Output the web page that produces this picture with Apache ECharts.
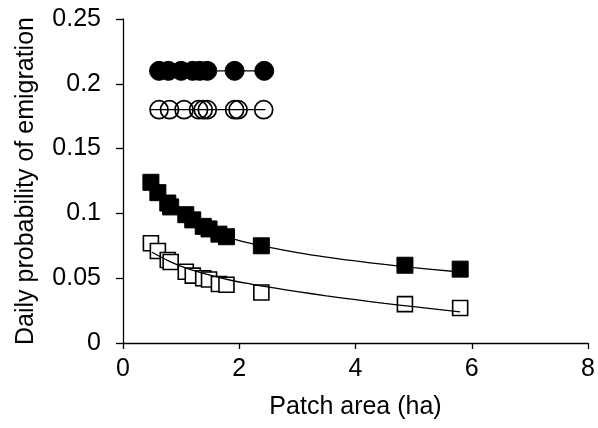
<!DOCTYPE html>
<html>
<head>
<meta charset="utf-8">
<script src="https://cdn.jsdelivr.net/npm/echarts@6/dist/echarts.min.js"></script>
<style>
  html, body { margin: 0; padding: 0; background: #fff; }
  #chart { width: 598px; height: 428px; }
</style>
</head>
<body>
<div id="chart"></div>
<script>
// Patch areas (ha) and daily emigration probabilities
const squareArea = [0.48, 0.6, 0.77, 0.82, 1.08, 1.2, 1.38, 1.48, 1.65, 1.78, 2.38, 4.85, 5.8];
const filledSquareProb = [0.124, 0.116, 0.108, 0.105, 0.099, 0.095, 0.090, 0.088, 0.084, 0.082, 0.075, 0.060, 0.057];
const openSquareProb = [0.077, 0.071, 0.064, 0.0625, 0.055, 0.052, 0.050, 0.049, 0.0455, 0.045, 0.039, 0.030, 0.027];

const filledCircleArea = [0.62, 0.78, 1.0, 1.2, 1.32, 1.45, 1.92, 2.43];
const filledCircleProb = [0.21, 0.21, 0.21, 0.21, 0.21, 0.21, 0.21, 0.21];
const openCircleArea = [0.62, 0.8, 1.05, 1.3, 1.38, 1.45, 1.92, 1.98, 2.42];
const openCircleProb = [0.18, 0.18, 0.18, 0.18, 0.18, 0.18, 0.18, 0.18, 0.18];

// Fitted curves
const filledFitArea = [0.48, 0.7, 1.0, 1.5, 2.0, 2.5, 3.0, 3.5, 4.0, 4.5, 5.0, 5.8];
const filledFitProb = [0.124, 0.110, 0.098, 0.086, 0.079, 0.074, 0.0698, 0.0663, 0.0633, 0.0606, 0.0582, 0.0548];
const openFitArea = [0.5, 0.8, 1.1, 1.4, 1.8, 2.2, 2.6, 3.0, 3.5, 4.0, 4.5, 5.0, 5.8];
const openFitProb = [0.070, 0.063, 0.0575, 0.0535, 0.049, 0.0455, 0.0425, 0.0397, 0.0364, 0.0334, 0.0306, 0.028, 0.024];

// Flat fits through the circle groups
const flatFitArea = [0.48, 2.45];
const filledFlatProb = [0.21, 0.21];
const openFlatProb = [0.18, 0.18];

// Axis ticks
const xTicks = [0, 2, 4, 6, 8];
const yTicks = ['0', '0.05', '0.1', '0.15', '0.2', '0.25'];

const zip = (xs, ys) => xs.map((x, i) => [x, ys[i]]);
const FONT = 'Liberation Sans, Arial, sans-serif';

const chart = echarts.init(document.getElementById('chart'), null, { renderer: 'canvas' });

const fitLine = (data, z) => ({
  type: 'line', data, smooth: 0.4, showSymbol: false, symbol: 'none',
  lineStyle: { color: '#000', width: 1.3 }, z, silent: true
});

chart.setOption({
  animation: false,
  backgroundColor: '#fff',
  grid: { left: 123, right: 9, top: 19, bottom: 85, containLabel: false },
  xAxis: {
    type: 'value', min: xTicks[0], max: xTicks[xTicks.length - 1], interval: 2,
    name: 'Patch area (ha)', nameLocation: 'middle', nameGap: 52,
    nameTextStyle: { fontFamily: FONT, fontSize: 25, color: '#000' },
    axisLine: { show: true, onZero: false, lineStyle: { color: '#000', width: 1.3 } },
    axisTick: { show: true, inside: false, length: 6, lineStyle: { color: '#000', width: 1.3 } },
    axisLabel: { margin: 14, fontFamily: FONT, fontSize: 25, color: '#000' },
    splitLine: { show: false }
  },
  yAxis: {
    type: 'value', min: 0, max: 0.25, interval: 0.05,
    name: 'Daily probability of emigration', nameLocation: 'middle', nameGap: 84, nameRotate: 90,
    nameTextStyle: { fontFamily: FONT, fontSize: 25, color: '#000' },
    axisLine: { show: true, onZero: false, lineStyle: { color: '#000', width: 1.3 } },
    axisTick: { show: true, inside: false, length: 7, lineStyle: { color: '#000', width: 1.3 } },
    axisLabel: {
      margin: 22, fontFamily: FONT, fontSize: 25, color: '#000',
      formatter: (v) => yTicks[Math.round(v / 0.05)]
    },
    splitLine: { show: false }
  },
  series: [
    {
      type: 'scatter', data: zip(squareArea, openSquareProb), symbol: 'rect', symbolSize: 15,
      itemStyle: { color: '#fff', borderColor: '#000', borderWidth: 1.6, opacity: 1 }, z: 2
    },
    {
      type: 'scatter', data: zip(squareArea, filledSquareProb), symbol: 'rect', symbolSize: 16,
      itemStyle: { color: '#000', borderColor: '#000', borderWidth: 1, opacity: 1 }, z: 2
    },
    {
      type: 'scatter', data: zip(openCircleArea, openCircleProb), symbol: 'circle', symbolSize: 18,
      itemStyle: { color: 'rgba(255,255,255,0)', borderColor: '#000', borderWidth: 1.7, opacity: 1 }, z: 2
    },
    {
      type: 'scatter', data: zip(filledCircleArea, filledCircleProb), symbol: 'circle', symbolSize: 19,
      itemStyle: { color: '#000', borderColor: '#000', borderWidth: 1, opacity: 1 }, z: 2
    },
    fitLine(zip(filledFitArea, filledFitProb), 3),
    fitLine(zip(openFitArea, openFitProb), 3),
    fitLine(zip(flatFitArea, filledFlatProb), 3),
    fitLine(zip(flatFitArea, openFlatProb), 3)
  ]
});
</script>
</body>
</html>
